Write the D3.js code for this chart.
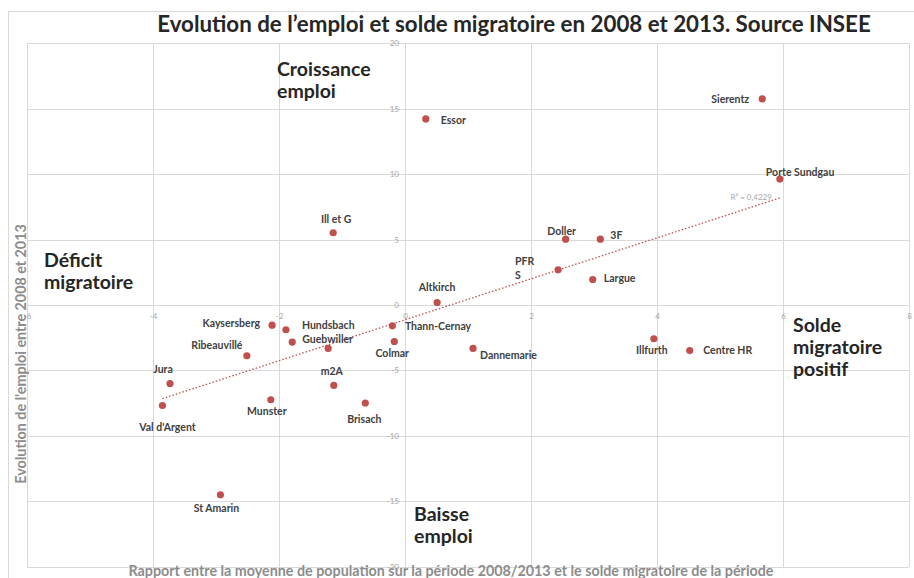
<!DOCTYPE html>
<meta charset="utf-8">
<html lang="fr">
<style>
body { margin: 0; background: #fff; }
.grid line { stroke: #d9d9d9; stroke-width: 1px; shape-rendering: crispEdges; }
.grid path { display: none; }
.ticks path { display: none; }
.ticks text { fill: #a6a6a6; font: 8px Lato, sans-serif; }
.title { fill: #262626; font: bold 22.3px Lato, sans-serif; }
.quad { fill: #262626; font: bold 19.5px Lato, sans-serif; }
.lbl { fill: #404040; font: bold 10.5px Lato, sans-serif; }
.axtitle { fill: #8c8c8c; font: bold 14.3px Lato, sans-serif; }
.dot { fill: #c0504d; }
.trend { fill: none; stroke: #c0504d; stroke-width: 1.3px; stroke-dasharray: 1.5,2; }
.r2 { fill: #a6a6a6; font: 8px Lato, sans-serif; }
</style>
<body>
<div id="chart"></div>
<script src="https://cdn.jsdelivr.net/npm/d3@7"></script>
<script>
// data
var names = ["Sierentz", "Porte Sundgau", "Essor", "Ill et G", "Doller", "3F", "PFR S", "Largue",
             "Altkirch", "Kaysersberg", "Hundsbach", "Guebwiller", "", "Thann-Cernay", "Colmar",
             "Ribeauvillé", "Jura", "Val d'Argent", "Munster", "m2A", "Brisach", "Dannemarie",
             "Illfurth", "Centre HR", "St Amarin"];
var solde = [5.67, 5.95, 0.33, -1.14, 2.55, 3.10, 2.43, 2.98,
             0.51, -2.11, -1.89, -1.79, -1.22, -0.20, -0.17,
             -2.51, -3.73, -3.85, -2.13, -1.13, -0.63, 1.08,
             3.95, 4.52, -2.93];
var emploi = [15.75, 9.62, 14.22, 5.52, 5.03, 5.03, 2.69, 1.95,
              0.19, -1.54, -1.89, -2.83, -3.32, -1.59, -2.79,
              -3.88, -6.0, -7.68, -7.24, -6.15, -7.49, -3.32,
              -2.58, -3.48, -14.5];
var xTicks = [-6, -4, -2, 0, 2, 4, 6, 8];
var yTicks = [-20, -15, -10, -5, 0, 5, 10, 15, 20];
var r2Text = "R² = 0,4229";

var width = 914, height = 578;
var plot = {left: 27, right: 909, top: 43.3, bottom: 566.7};

// where each label sits relative to its point
var labelPos = {
  "Sierentz": ["end", -13, 4], "Porte Sundgau": ["start", -14, -3], "Essor": ["start", 15, 5],
  "Ill et G": ["middle", 3, -10], "Doller": ["middle", -4, -4], "3F": ["start", 10, 0],
  "PFR S": ["start", -43, -5], "Largue": ["start", 11, 3], "Altkirch": ["middle", 0, -12],
  "Kaysersberg": ["end", -12, 1.5], "Hundsbach": ["start", 16, -0.5], "Guebwiller": ["start", 10, 1],
  "Thann-Cernay": ["start", 12.5, 4], "Colmar": ["middle", -2, 15.5], "Ribeauvillé": ["middle", -30, -7],
  "Jura": ["middle", -7, -11], "Val d'Argent": ["middle", 5, 26], "Munster": ["middle", -4, 15],
  "m2A": ["middle", -2, -10.5], "Brisach": ["middle", -1, 19.5], "Dannemarie": ["start", 7, 10.5],
  "Illfurth": ["middle", -2, 15], "Centre HR": ["start", 13.5, 3], "St Amarin": ["middle", -4, 17]
};

var x = d3.scaleLinear().domain([-6, 8]).range([plot.left, plot.right]);
var y = d3.scaleLinear().domain([-20, 20]).range([plot.bottom, plot.top]);

var svg = d3.select("#chart").append("svg")
    .attr("width", width)
    .attr("height", height);

// chart area border (only top and left are in frame)
svg.append("rect")
    .attr("x", 8.5).attr("y", 11.5)
    .attr("width", width).attr("height", height)
    .attr("fill", "none").attr("stroke", "#d9d9d9");

// gridlines
svg.append("g").attr("class", "grid")
    .attr("transform", "translate(0," + plot.bottom + ")")
    .call(d3.axisBottom(x).tickValues(xTicks).tickSize(-(plot.bottom - plot.top)).tickFormat(""));
svg.append("g").attr("class", "grid")
    .attr("transform", "translate(" + plot.left + ",0)")
    .call(d3.axisLeft(y).tickValues(yTicks).tickSize(-(plot.right - plot.left)).tickFormat(""));

// axes crossing at 0
svg.append("g").attr("class", "ticks")
    .attr("transform", "translate(0," + y(0) + ")")
    .call(d3.axisBottom(x).tickValues(xTicks).tickSize(0).tickPadding(8).tickFormat(function(d){ return String(d); }));
svg.append("g").attr("class", "ticks")
    .attr("transform", "translate(" + x(0) + ",0)")
    .call(d3.axisLeft(y).tickValues(yTicks).tickSize(0).tickPadding(6).tickFormat(function(d){ return String(d); }));
svg.selectAll(".ticks .tick line").remove();

// linear trendline (least squares), drawn over the x range of the data
var n = solde.length,
    mx = d3.mean(solde), my = d3.mean(emploi),
    sxy = d3.sum(solde, function(v, i){ return (v - mx) * (emploi[i] - my); }),
    sxx = d3.sum(solde, function(v){ return (v - mx) * (v - mx); }),
    slope = sxy / sxx,
    icpt = my - slope * mx,
    xmin = d3.min(solde), xmax = d3.max(solde);

svg.append("path")
    .datum([xmin, xmax])
    .attr("class", "trend")
    .attr("d", d3.line().x(function(d){ return x(d); }).y(function(d){ return y(icpt + slope * d); }));

svg.append("text").attr("class", "r2")
    .attr("x", x(xmax) - 8).attr("y", y(icpt + slope * xmax) + 2)
    .attr("text-anchor", "end")
    .text(r2Text);

// points
var pts = d3.range(n).map(function(i){ return {name: names[i], sx: solde[i], ey: emploi[i]}; });

svg.selectAll(".dot").data(pts).enter().append("circle")
    .attr("class", "dot")
    .attr("cx", function(d){ return x(d.sx); })
    .attr("cy", function(d){ return y(d.ey); })
    .attr("r", 3.6);

var lbl = svg.selectAll(".lbl").data(pts.filter(function(d){ return d.name; })).enter().append("text")
    .attr("class", "lbl")
    .attr("text-anchor", function(d){ return labelPos[d.name][0]; })
    .attr("x", function(d){ return x(d.sx) + labelPos[d.name][1]; })
    .attr("y", function(d){ return y(d.ey) + labelPos[d.name][2]; });
lbl.each(function(d){
  var parts = d.name === "PFR S" ? ["PFR", "S"] : [d.name];
  var t = d3.select(this);
  parts.forEach(function(p, k){
    t.append("tspan").attr("x", t.attr("x")).attr("dy", k ? 14 : 0).text(p);
  });
});

// quadrant notes
function quad(lines, px, py) {
  var t = svg.append("text").attr("class", "quad").attr("x", px).attr("y", py);
  lines.forEach(function(s, k){ t.append("tspan").attr("x", px).attr("dy", k ? 22 : 0).text(s); });
}
quad(["Croissance", "emploi"], 277, 76);
quad(["Déficit", "migratoire"], 44, 267);
quad(["Solde", "migratoire", "positif"], 793, 332);
quad(["Baisse", "emploi"], 414, 520.5);

// titles
svg.append("text").attr("class", "title")
    .attr("x", 514).attr("y", 32)
    .attr("text-anchor", "middle")
    .text("Evolution de l’emploi et solde migratoire en 2008 et 2013. Source INSEE");

svg.append("text").attr("class", "axtitle")
    .attr("transform", "translate(26,354) rotate(-90)")
    .attr("text-anchor", "middle")
    .text("Evolution de l'emploi entre 2008 et 2013");

svg.append("text").attr("class", "axtitle")
    .attr("x", 451).attr("y", 576)
    .attr("text-anchor", "middle")
    .text("Rapport entre la moyenne de population sur la période 2008/2013 et le solde migratoire de la période");
</script>
</body>
</html>
